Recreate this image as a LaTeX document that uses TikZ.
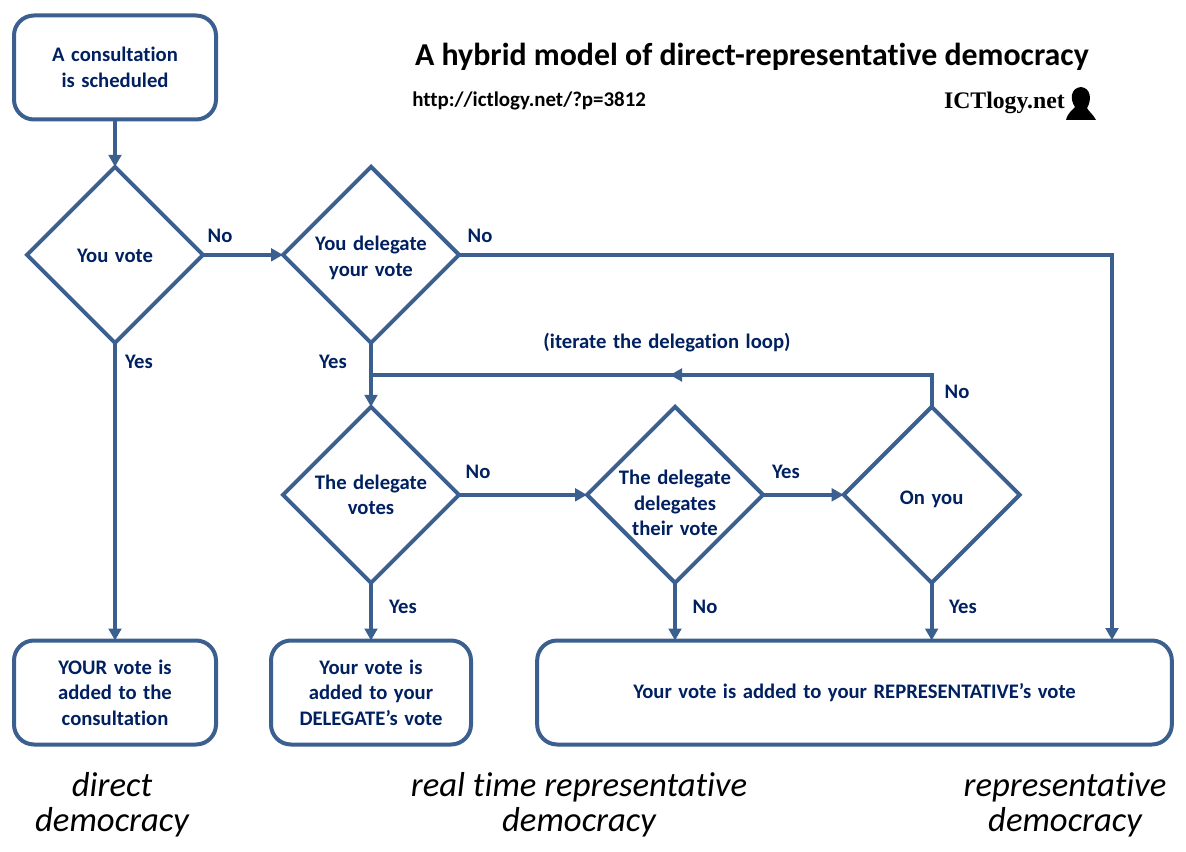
\documentclass[tikz,border=0pt]{standalone}
\usepackage{fontspec}
\setmainfont{Carlito}[RawFeature=-liga]
\newfontfamily\boxfont{Carlito}[WordSpace=1.4,RawFeature=-liga]
\newfontfamily\logofont{Liberation Serif}
\usetikzlibrary{positioning, shapes.geometric, arrows.meta}
\definecolor{flowblue}{HTML}{3B5F8E}
\definecolor{textnavy}{HTML}{002060}
\newcommand{\lowerby}[1]{\rule{0pt}{#1}}
\tikzset{Question/.style={%
    shape=diamond,%
    draw=flowblue,%
    line width=3pt,%
    aspect=1,%
    inner sep=-12pt,%
    outer sep=0pt,%
    minimum width=132pt,%
    minimum height=132pt,%
    align=center,%
    text=textnavy,%
    font=\boxfont\fontsize{15.5}{19.2}\selectfont\bfseries,%
}}
\tikzset{Outcome/.style={%
    shape=rectangle,%
    rounded corners=15pt,%
    draw=flowblue,%
    line width=3pt,%
    outer sep=0pt,%
    minimum height=78pt,%
    align=center,%
    text=textnavy,%
    font=\boxfont\fontsize{15.5}{19.2}\selectfont\bfseries,%
}}
\tikzset{Flow/.style={%
    -{Triangle[length=9pt,width=9.5pt]},%
    draw=flowblue,%
    line width=3pt,%
}}
\tikzset{FlowPlain/.style={%
    draw=flowblue,%
    line width=3pt,%
}}
\tikzset{Answer/.style={%
    text=textnavy,%
    font=\boxfont\fontsize{15.5}{19}\selectfont\bfseries,%
}}
\tikzset{Family/.style={%
    align=center,%
    font=\fontsize{26}{26.5}\selectfont\itshape,%
}}
\begin{document}
\begin{tikzpicture}[x=0.75pt, y=-0.75pt]
    \useasboundingbox (0,0) rectangle (1186,852);

    % boxes and questions
    \node[Outcome, minimum width=151.5pt] (bStart) at (115,67.5) {A consultation\\is scheduled};
    \node[Question, below=35.5pt of bStart] (qVote) {\lowerby{12pt}You vote};
    \node[Question, right=60pt of qVote] (qDelegate) {\lowerby{15.5pt}You delegate\\your vote};
    \node[Question, below=48pt of qDelegate] (qDelVotes) {The delegate\\votes};
    \node[Question, right=96pt of qDelVotes] (qDelDelegates) {\lowerby{23pt}The delegate\\delegates\\their vote};
    \node[Question, right=60.5pt of qDelDelegates] (qOnYou) {\lowerby{16.5pt}On you};
    \node[Outcome, minimum width=151.5pt] (bDirect) at (115,692.5) {YOUR vote is\\added to the\\consultation};
    \node[Outcome, minimum width=150pt] (bDelegate) at (371,692.5) {Your vote is\\added to your\\DELEGATE’s vote};
    \node[Outcome, minimum width=476pt] (bRepresent) at (854.5,692.5) {Your vote is added to your REPRESENTATIVE’s vote};

    % free ends of the connectors
    \coordinate (cFar) at (1112,640);
    \coordinate (cJoin) at (371,375);
    \coordinate (cLoopTail) at (700,375);
    \coordinate (cLoopMid) at (670,375);

    % connectors
    \path (bStart) edge[Flow] (qVote);
    \path (qVote) edge[Flow] (bDirect);
    \path (qVote) edge[Flow] (qDelegate);
    \path (qDelegate) edge[Flow] (qDelVotes);
    \path (qDelVotes) edge[Flow] (qDelDelegates);
    \path (qDelDelegates) edge[Flow] (qOnYou);
    \path (qDelVotes) edge[Flow] (bDelegate);
    \draw[Flow] (qDelDelegates.south) -- (qDelDelegates.south |- bRepresent.north);
    \draw[Flow] (qOnYou.south) -- (qOnYou.south |- bRepresent.north);
    \draw[Flow] (qDelegate.east) -| (cFar);
    \draw[FlowPlain] (qOnYou.north) |- (cJoin);
    \draw[Flow] (cLoopTail) -- (cLoopMid);

    % answers
    \node[Answer] (aVoteNo) at (220,236) {No};
    \node[Answer] (aVoteYes) at (139,362) {Yes};
    \node[Answer] (aDelegateNo) at (480,236) {No};
    \node[Answer] (aDelegateYes) at (333,362) {Yes};
    \node[Answer] (aLoop) at (667,343) {(iterate the delegation loop)};
    \node[Answer] (aOnYouNo) at (957,392) {No};
    \node[Answer] (aDelVotesNo) at (478,472) {No};
    \node[Answer] (aDelDelegatesYes) at (786,472) {Yes};
    \node[Answer] (aDelVotesYes) at (403,607) {Yes};
    \node[Answer] (aDelDelegatesNo) at (705,607) {No};
    \node[Answer] (aOnYouYes) at (963,607) {Yes};

    % heading
    \node[font=\fontsize{23.9}{28}\selectfont\bfseries] (tTitle) at (752,57) {A hybrid model of direct-representative democracy};
    \node[font=\fontsize{15.7}{19}\selectfont\bfseries, anchor=west, inner sep=0pt] (tLink) at (412,101) {http://ictlogy.net/?p=3812};
    \node[font=\logofont\fontsize{17.8}{21}\selectfont\bfseries, anchor=east, inner sep=0pt] (tLogo) at (1065,103) {ICTlogy.net};
    \fill (1066,120) .. controls (1068,112) and (1073,110) .. (1075,107)
        .. controls (1070,100) and (1070,88) .. (1081,87)
        .. controls (1091,88) and (1092,100) .. (1087,108)
        .. controls (1089,112) and (1093,114) .. (1096,120) -- cycle;

    % kinds of democracy
    \node[Family] (tDirect) at (112,805) {direct\\democracy};
    \node[Family] (tRealTime) at (579,805) {real time representative\\democracy};
    \node[Family] (tRepresent) at (1065,805) {representative\\democracy};
\end{tikzpicture}
\end{document}
